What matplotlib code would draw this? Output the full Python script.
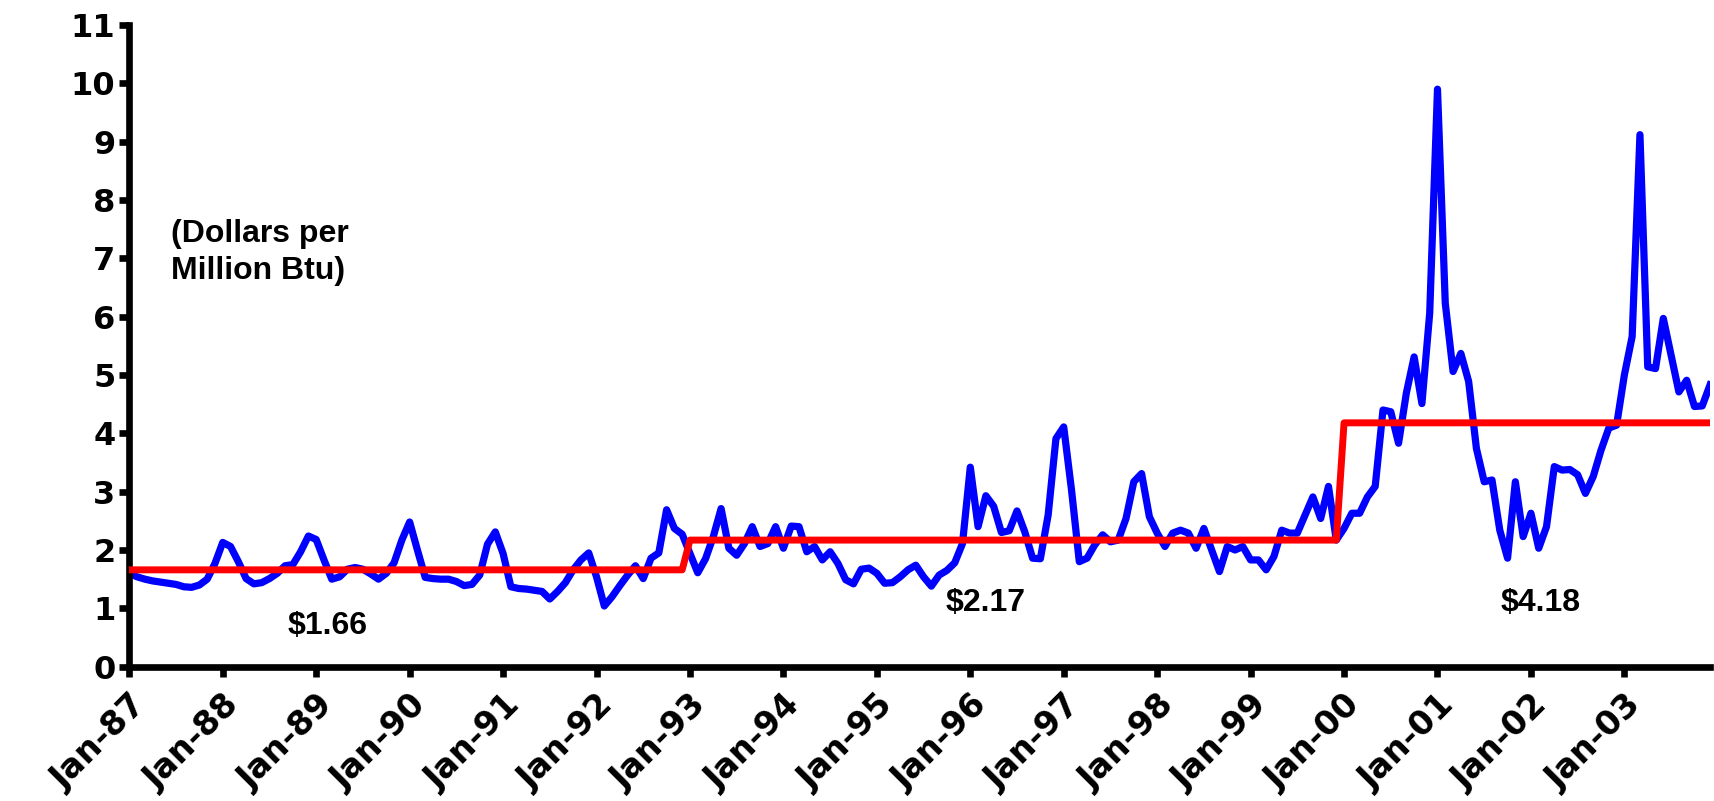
import matplotlib
matplotlib.use("Agg")
import matplotlib.pyplot as plt
import matplotlib.transforms as mtransforms

plt.rcParams['font.family'] = ['Liberation Sans', 'DejaVu Sans']
plt.rcParams['font.weight'] = 'bold'

# monthly price, Jan-87 .. Dec-03 (dollars per million Btu)
price = [
    1.60, 1.54, 1.50, 1.47, 1.45, 1.43, 1.41, 1.37, 1.36, 1.40, 1.50, 1.77,  # 1987
    2.13, 2.06, 1.80, 1.51, 1.42, 1.44, 1.51, 1.60, 1.73, 1.75, 1.97, 2.24,  # 1988
    2.18, 1.83, 1.50, 1.54, 1.67, 1.70, 1.67, 1.59, 1.50, 1.60, 1.78, 2.17,  # 1989
    2.48, 2.00, 1.53, 1.51, 1.50, 1.50, 1.46, 1.39, 1.41, 1.57, 2.10, 2.31,  # 1990
    1.94, 1.37, 1.34, 1.33, 1.31, 1.29, 1.16, 1.29, 1.44, 1.66, 1.83, 1.95,  # 1991
    1.54, 1.04, 1.20, 1.39, 1.57, 1.73, 1.51, 1.86, 1.95, 2.69, 2.37, 2.27,  # 1992
    1.94, 1.61, 1.85, 2.23, 2.71, 2.03, 1.91, 2.11, 2.40, 2.06, 2.11, 2.40,  # 1993
    2.03, 2.41, 2.40, 1.97, 2.06, 1.83, 1.97, 1.77, 1.49, 1.42, 1.67, 1.69,  # 1994
    1.60, 1.43, 1.44, 1.54, 1.66, 1.74, 1.54, 1.38, 1.57, 1.65, 1.78, 2.11,  # 1995
    3.42, 2.40, 2.93, 2.75, 2.30, 2.33, 2.67, 2.31, 1.86, 1.85, 2.60, 3.91,  # 1996
    4.11, 3.03, 1.80, 1.86, 2.09, 2.26, 2.14, 2.17, 2.54, 3.17, 3.31, 2.57,  # 1997
    2.29, 2.06, 2.29, 2.34, 2.29, 2.03, 2.37, 2.00, 1.63, 2.06, 2.00, 2.06,  # 1998
    1.83, 1.83, 1.66, 1.89, 2.34, 2.29, 2.29, 2.60, 2.91, 2.54, 3.09, 2.17,  # 1999
    2.37, 2.63, 2.63, 2.91, 3.09, 4.40, 4.37, 3.83, 4.69, 5.31, 4.51, 6.06,  # 2000
    9.90, 6.23, 5.06, 5.37, 4.89, 3.74, 3.17, 3.20, 2.34, 1.86, 3.17, 2.23,  # 2001
    2.63, 2.03, 2.40, 3.43, 3.37, 3.38, 3.29, 2.97, 3.26, 3.71, 4.09, 4.14,  # 2002
    5.00, 5.66, 9.12, 5.14, 5.11, 5.97, 5.34, 4.71, 4.91, 4.46, 4.47, 4.83,  # 2003
]

# period averages and how many months each covers
period_avg = [1.66, 2.17, 4.18]
period_months = [72, 84, 48]
avg_labels = ['$1.66', '$2.17', '$4.18']

years = ['87', '88', '89', '90', '91', '92', '93', '94', '95',
         '96', '97', '98', '99', '00', '01', '02', '03']
tick_labels = ['Jan-' + y for y in years]

avg_line = []
for a, n in zip(period_avg, period_months):
    avg_line += [a] * n

months = list(range(len(price)))

fig = plt.figure(figsize=(17.15, 8.01), dpi=100)
ax = fig.add_axes([0.0754, 0.1677, 0.9217, 0.8011])

ax.plot(months, price, color='#0000ff', lw=5.2, solid_joinstyle='round', zorder=2)
ax.plot(months, avg_line, color='#ff0000', lw=5.0, zorder=3)

ax.set_xlim(0, len(price) - 1)
ax.set_ylim(0, 11)
ax.set_yticks(range(0, 12))
ax.set_xticks(range(0, len(price), 12))
ax.set_xticklabels(tick_labels, rotation=45, ha='right', va='top',
                   rotation_mode='anchor', fontsize=24, fontweight='bold',
                   family='DejaVu Sans')
# nudge the date labels a little left, like the original
shift = mtransforms.ScaledTranslation(-7 / 100, 0, fig.dpi_scale_trans)
for lab in ax.get_xticklabels():
    lab.set_transform(lab.get_transform() + shift)
for lab in ax.get_yticklabels():
    lab.set_fontsize(23)
    lab.set_fontweight('bold')
    lab.set_family('DejaVu Sans')

for s in ['top', 'right']:
    ax.spines[s].set_visible(False)
for s in ['left', 'bottom']:
    ax.spines[s].set_linewidth(4.8)
ax.tick_params(axis='both', direction='out', length=7, width=4.8)
ax.tick_params(axis='y', pad=3)
ax.tick_params(axis='x', pad=9)

ax.text(5.4, 7.1, '(Dollars per\nMillion Btu)', fontsize=23, fontweight='bold',
        ha='left', va='center', linespacing=1.3)

# average labels
label_pos = [(25.4, 0.70), (110.0, 1.09), (181.3, 1.09)]
for (x, y), t in zip(label_pos, avg_labels):
    ax.text(x, y, t, fontsize=23, fontweight='bold', ha='center', va='center')

fig.savefig('out.png', dpi=100)
